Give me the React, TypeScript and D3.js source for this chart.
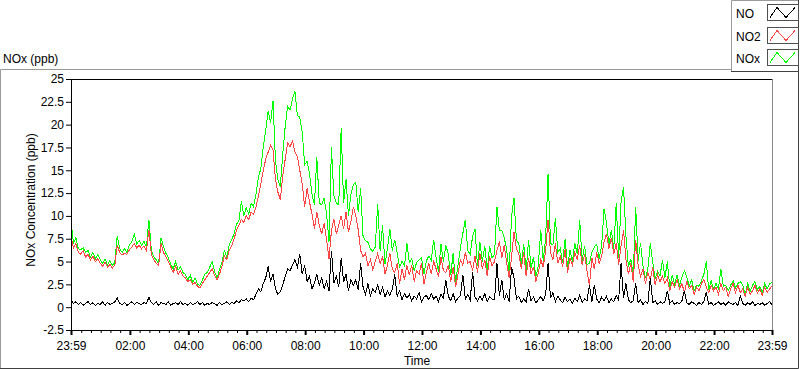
import React, { useEffect, useRef } from 'react';
import * as d3 from 'd3';

// 5-minute readings, 23:59 -> 23:59 (289 points)
const no = [
  0.8, 0.4, 0.6, 0.3, 0.5, 0.2, 0.4, 0.6, 0.3, 0.5,
  0.2, 0.4, 0.3, 0.6, 0.2, 0.5, 0.3, 0.4, 0.6, 1.0,
  0.4, 0.3, 0.5, 0.2, 0.4, 0.6, 0.3, 0.5, 0.4, 0.3,
  0.5, 0.4, 1.1, 0.5, 0.3, 0.6, 0.2, 0.5, 0.4, 0.3,
  0.6, 0.2, 0.4, 0.5, 0.3, 0.6, 0.3, 0.4, 0.2, 0.5,
  0.3, 0.4, 0.6, 0.3, 0.5, 0.2, 0.4, 0.3, 0.5,
  0.4, 0.2, 0.5, 0.3, 0.4, 0.6, 0.3, 0.5, 0.4, 0.7, 0.5, 0.8,
  0.7, 0.9, 0.6, 1.0, 0.8, 1.4, 2.0, 1.7, 2.6, 3.2, 4.5, 2.8, 3.6,
  2.0, 1.4, 1.7, 2.4, 3.4, 4.2, 4.0, 4.6, 5.2, 4.4, 5.8, 3.6, 4.6,
  2.8, 3.4, 2.0, 2.6, 3.6, 2.4, 3.2, 2.0, 2.8, 1.8, 6.2, 2.6, 3.4, 2.2,
  5.4, 2.8, 3.6, 1.8, 3.0, 2.4,
  3.0, 1.9, 4.8, 2.2, 1.4, 2.6, 1.2, 2.0, 1.6, 2.4,
  1.4, 2.2, 1.1, 1.8, 1.3, 2.0, 3.6, 1.2, 1.8, 0.8, 1.5, 1.0,
  1.4, 0.7, 1.2, 0.9, 1.6, 0.6, 1.1, 1.3, 0.8, 1.5, 0.9, 1.2, 0.6, 1.4, 1.0,
  3.0, 1.2, 0.7, 1.5, 0.6, 1.0, 1.3, 3.5, 0.9, 1.4, 0.8, 3.8, 1.1, 0.7,
  1.2, 0.8, 1.5, 0.6, 1.1, 0.9,
  0.8, 4.8, 1.2, 3.0, 0.8, 1.5, 0.6, 4.4, 3.2, 0.9,
  1.2, 0.5, 0.9, 0.6, 2.0, 0.7, 1.1, 0.5, 0.8, 1.2, 0.7, 1.4, 4.8,
  1.0, 1.6, 0.6, 1.2, 0.8, 0.5, 1.1, 0.6, 0.9, 0.4, 1.0, 0.6, 1.3, 0.5, 0.9, 0.7,
  2.4, 0.6, 2.4, 0.9, 0.5, 1.1, 0.7, 1.2, 0.5, 0.9,
  0.6, 1.3, 0.8, 4.8, 1.0, 2.6, 0.8, 0.5, 0.7,
  2.6, 0.5, 0.8, 0.3, 0.6, 0.4, 3.2, 0.5, 0.7, 0.3, 0.6, 0.4,
  0.6, 1.8, 0.4, 0.7, 0.3, 0.5, 0.4, 0.7, 1.8, 0.5,
  0.3, 0.6, 0.4, 0.2, 0.5, 0.3, 0.6, 1.6, 0.3, 0.5, 0.2, 0.4, 0.6,
  0.3, 0.5, 0.2, 0.6, 0.4, 0.3, 0.5, 0.2,
  1.2, 0.4, 0.2, 0.5, 0.3, 0.6, 0.2, 0.4, 0.3, 0.5, 0.2, 0.4, 0.6, 0.3,
];

const no2 = [
  7.8, 6.5, 7.0, 6.0, 5.8, 6.2, 5.5, 5.8, 5.2, 5.6, 5.0, 5.3,
  4.8, 4.5, 4.9, 4.4, 4.7, 4.3, 4.6, 6.8, 6.0, 5.7, 5.9, 5.8,
  6.3, 6.6, 7.0, 6.5, 6.8, 6.4, 6.7, 6.2, 8.5, 5.8, 5.2, 4.8, 4.6,
  7.0, 6.0, 5.5, 5.0, 4.4, 3.8, 4.5, 3.6, 4.0, 3.4,
  3.2, 2.8, 3.0, 2.5, 2.7, 2.3, 2.1, 2.6, 3.0, 3.4, 3.8, 4.2,
  3.5, 3.0, 3.6, 4.5, 5.6, 5.2, 6.2, 6.7, 7.5, 8.4, 9.0, 9.6,
  9.3, 10.0, 9.6, 10.4, 10.2, 11.0, 12.2, 13.5, 15.0, 16.2, 17.0, 17.7, 17.2,
  14.0, 12.6, 11.8, 14.4, 16.2, 18.0, 17.6, 18.2, 17.0, 16.5, 15.0, 13.5, 11.0,
  13.0, 11.5, 10.2, 8.6, 10.4, 9.0, 8.0, 9.2, 7.4, 5.3, 8.4, 9.6, 8.0, 9.0,
  10.0, 8.6, 10.4, 8.2, 9.4, 11.0,
  10.0, 8.5, 6.2, 5.5, 5.9, 4.5, 5.2, 4.1, 5.0, 5.9,
  4.8, 5.6, 3.6, 4.6, 5.9, 4.2, 3.8, 4.8, 2.6, 4.2, 3.0, 4.6,
  3.5, 4.6, 2.8, 4.0, 3.6, 4.8, 2.5, 3.8, 4.8, 3.6, 5.0, 4.2, 3.3, 5.5, 4.0,
  3.8, 4.6, 2.8, 4.4, 2.2, 3.6, 5.2, 4.6, 6.0, 4.8, 5.0, 4.0, 5.6, 3.8,
  5.9, 4.2, 5.2, 3.4, 5.6, 4.5,
  5.0, 6.2, 7.2, 5.4, 6.8, 4.8, 3.2, 5.5, 8.2, 6.4,
  5.8, 4.2, 6.0, 3.4, 5.4, 3.6, 4.4, 2.8, 3.8, 5.2, 4.4, 6.2, 9.6,
  6.0, 5.2, 7.0, 4.8, 5.6, 4.4, 6.4, 3.8, 5.4, 4.6, 6.0, 5.2, 6.8, 4.6, 5.8, 4.0,
  2.4, 5.4, 4.2, 6.0, 4.8, 5.6, 7.2, 8.0, 6.4, 7.6,
  5.8, 7.0, 4.6, 6.8, 8.4, 5.2, 3.6, 4.8, 2.8,
  7.4, 4.6, 3.4, 4.2, 2.6, 3.8, 3.0, 4.4, 2.4, 3.6, 2.8, 3.4,
  2.6, 3.2, 1.8, 2.8, 2.2, 3.0, 2.0, 2.6, 1.6, 2.8,
  2.0, 2.4, 1.4, 2.2, 1.8, 2.6, 3.0, 2.2, 1.6, 2.4, 1.8, 2.2, 1.4,
  2.6, 1.8, 2.2, 1.2, 2.0, 2.6, 1.6, 2.4,
  1.6, 2.0, 1.2, 2.2, 1.4, 1.8, 2.4, 1.5, 2.0, 1.3, 2.2, 1.6, 2.0, 2.3,
];

const nox = [
  9.5, 7.0, 7.6, 6.4, 6.3, 6.5, 6.0, 6.2, 5.5, 6.0, 5.3, 5.8,
  5.2, 4.8, 5.3, 4.6, 5.1, 4.6, 4.9, 7.8, 6.4, 6.0, 6.4, 6.0,
  6.8, 7.2, 8.0, 6.9, 7.3, 6.8, 7.2, 6.6, 9.6, 6.3, 5.5, 5.2, 4.8,
  7.6, 6.6, 5.9, 5.4, 4.7, 4.2, 5.0, 4.1, 4.4, 3.8,
  3.6, 3.0, 3.5, 2.7, 3.2, 2.5, 2.4, 3.0, 3.6, 3.8, 4.4, 5.0,
  3.9, 3.2, 4.1, 4.9, 6.2, 5.5, 6.8, 7.4, 8.0, 9.1, 9.5, 11.6,
  10.0, 10.9, 10.2, 11.4, 11.0, 12.4, 14.2, 15.2, 17.6, 19.4, 21.5, 20.2, 22.6,
  16.0, 14.0, 13.2, 16.8, 19.8, 22.0, 21.6, 22.8, 23.7, 21.0, 20.8, 19.2, 15.6,
  16.0, 14.6, 12.4, 11.2, 16.4, 11.4, 11.2, 12.0, 10.2, 7.2, 17.5, 12.2, 11.4, 11.2,
  19.6, 11.4, 14.0, 10.0, 12.4, 13.4,
  13.7, 10.4, 13.0, 7.7, 7.3, 7.1, 6.4, 6.1, 6.6, 11.3,
  6.2, 9.0, 4.7, 6.4, 8.6, 6.2, 7.4, 6.0, 4.4, 5.0, 4.5, 7.0,
  4.9, 5.3, 4.0, 4.9, 5.2, 5.4, 3.6, 5.1, 5.6, 5.1, 7.4, 5.4, 3.9, 6.9, 5.0,
  6.8, 5.8, 3.5, 5.9, 2.8, 4.6, 6.5, 8.1, 9.6, 6.2, 5.8, 7.8, 8.6, 4.5,
  7.1, 5.0, 6.7, 4.0, 6.7, 5.4,
  5.8, 11.0, 8.4, 8.4, 7.6, 6.3, 3.8, 9.9, 12.0, 7.3,
  7.0, 4.7, 6.9, 4.0, 7.4, 4.3, 5.5, 3.3, 4.6, 8.5, 5.1, 7.6, 14.6,
  7.0, 6.8, 9.8, 6.0, 6.4, 4.9, 7.5, 4.4, 6.3, 5.0, 7.0, 5.8, 9.5, 5.1, 6.7, 4.7,
  4.8, 6.0, 6.6, 6.9, 5.3, 6.7, 10.8, 9.2, 6.9, 8.5,
  6.4, 11.4, 5.4, 11.6, 13.2, 7.8, 4.4, 5.3, 3.5,
  11.0, 5.1, 7.0, 4.5, 3.2, 4.2, 7.0, 4.9, 3.1, 3.9, 3.4, 5.2,
  3.2, 5.0, 2.2, 3.5, 2.5, 3.5, 2.4, 3.3, 4.0, 3.3,
  2.3, 3.0, 1.8, 2.4, 2.3, 2.9, 3.6, 5.0, 1.9, 2.9, 2.0, 2.6, 2.0,
  4.2, 2.3, 2.4, 1.8, 2.4, 2.9, 2.1, 2.6,
  2.8, 2.4, 1.4, 2.7, 1.7, 2.4, 2.8, 1.9, 2.3, 1.6, 2.6, 2.0, 2.6, 2.7,
];

const seriesNames = ['NO', 'NO2', 'NOx'];
const seriesColors = ['#000000', '#ff4646', '#00ff00'];
const yTicks = [25, 22.5, 20, 17.5, 15, 12.5, 10, 7.5, 5, 2.5, 0, -2.5];

const FONT = '"Liberation Sans", Arial, sans-serif';

const App = () => {
  const chartRef = useRef(null);

  useEffect(() => {
    const svg = d3.select(chartRef.current);
    svg.selectAll('*').remove();

    const left = 71, right = 772, top = 79, bottom = 330;

    const start = new Date(2020, 0, 1, 23, 59);
    const end = new Date(2020, 0, 2, 23, 59);
    const x = d3.scaleTime().domain([start, end]).range([left, right]);
    const y = d3.scaleLinear().domain([-2.5, 25]).range([bottom, top]);

    const timeAt = (i, n) => new Date(+start + (i * (+end - +start)) / (n - 1));

    // outer panel frame (3D look)
    svg.append('rect').attr('width', 800).attr('height', 369).attr('fill', '#fff');
    const frame = svg.append('g').attr('fill', 'none').attr('stroke-width', 1);
    frame.append('path').attr('d', 'M0.5,368V69.5H732').attr('stroke', '#9a9a9a');
    frame.append('path').attr('d', 'M0,368.5H798.5V69').attr('stroke', '#404040');

    svg.append('text')
      .attr('x', 3).attr('y', 63)
      .style('font', `12px ${FONT}`)
      .text('NOx (ppb)');

    // plot area
    svg.append('defs').append('clipPath').attr('id', 'plot-clip')
      .append('rect')
      .attr('x', left).attr('y', top)
      .attr('width', right - left).attr('height', bottom - top);

    svg.append('line')
      .attr('x1', left).attr('x2', right).attr('y1', top + 0.5).attr('y2', top + 0.5)
      .attr('stroke', '#000');
    svg.append('line')
      .attr('x1', right + 0.5).attr('x2', right + 0.5).attr('y1', top).attr('y2', bottom)
      .attr('stroke', '#888');

    const line = d3.line()
      .x(d => x(d[0]))
      .y(d => y(d[1]));

    const plots = svg.append('g').attr('clip-path', 'url(#plot-clip)');
    // NOx under NO2 under NO
    [[nox, 2], [no2, 1], [no, 0]].forEach(([arr, k]) => {
      const pts = arr.map((v, i) => [timeAt(i, arr.length), v]);
      plots.append('path')
        .datum(pts)
        .attr('d', line)
        .attr('fill', 'none')
        .attr('stroke', seriesColors[k])
        .attr('stroke-width', 1)
        .attr('shape-rendering', 'crispEdges');
    });

    // y axis
    const yAxis = svg.append('g')
      .attr('transform', `translate(${left},0)`)
      .call(d3.axisLeft(y).tickValues(yTicks).tickSize(5).tickSizeOuter(0).tickPadding(2)
        .tickFormat(d => String(d)));
    yAxis.select('.domain').attr('stroke', '#000');
    yAxis.selectAll('text').style('font', `12px ${FONT}`).attr('fill', '#000');

    svg.append('text')
      .attr('transform', 'translate(35,200) rotate(-90)')
      .attr('text-anchor', 'middle')
      .style('font', `12px ${FONT}`)
      .text('NOx Concentration (ppb)');

    // x axis
    const majors = [start, ...d3.timeHour.every(2).range(start, end)
      .filter(d => +d - +start > 30 * 60000), end];
    const minors = d3.timeMinute.every(20).range(start, end)
      .filter(d => !majors.some(m => Math.abs(+m - +d) < 60000 * 10));

    const xMinor = svg.append('g')
      .attr('transform', `translate(0,${bottom})`)
      .call(d3.axisBottom(x).tickValues(minors).tickSize(3).tickSizeOuter(0).tickFormat(() => ''));
    xMinor.select('.domain').remove();

    const xAxis = svg.append('g')
      .attr('transform', `translate(0,${bottom})`)
      .call(d3.axisBottom(x).tickValues(majors).tickSize(5).tickSizeOuter(0).tickPadding(6)
        .tickFormat(d3.timeFormat('%H:%M')));
    xAxis.select('.domain').attr('stroke', '#000');
    xAxis.selectAll('.tick line').attr('stroke-width', 2);
    xAxis.selectAll('text').style('font', `12px ${FONT}`).attr('fill', '#000');

    svg.append('text')
      .attr('x', 417).attr('y', 365)
      .attr('text-anchor', 'middle')
      .style('font', `12px ${FONT}`)
      .text('Time');

    // legend
    const legend = svg.append('g');
    legend.append('rect')
      .attr('x', 731.5).attr('y', 0.5).attr('width', 67).attr('height', 71)
      .attr('fill', '#fff').attr('stroke', 'none');
    legend.append('path').attr('d', 'M731.5,72V0.5H799').attr('fill', 'none').attr('stroke', '#9a9a9a');
    legend.append('path').attr('d', 'M731,71.5H798.5V0').attr('fill', 'none').attr('stroke', '#404040');

    seriesNames.forEach((name, i) => {
      const y0 = Math.round(4 + i * 22.5) + 0.5;
      legend.append('text')
        .attr('x', 736).attr('y', y0 + 13.5)
        .style('font', `12px ${FONT}`)
        .text(name);
      legend.append('rect')
        .attr('x', 767.5).attr('y', y0).attr('width', 31).attr('height', 16)
        .attr('fill', '#fff').attr('stroke', '#505050');
      legend.append('path')
        .attr('d', `M770,${y0 + 13}L777,${y0 + 3}L786,${y0 + 13}L795,${y0 + 3}`)
        .attr('fill', 'none')
        .attr('stroke', seriesColors[i])
        .attr('shape-rendering', 'crispEdges');
    });
  }, []);

  return (
    <svg ref={chartRef} width={800} height={369}
      style={{ position: 'absolute', left: 0, top: 0 }}></svg>
  );
};

export default App;
